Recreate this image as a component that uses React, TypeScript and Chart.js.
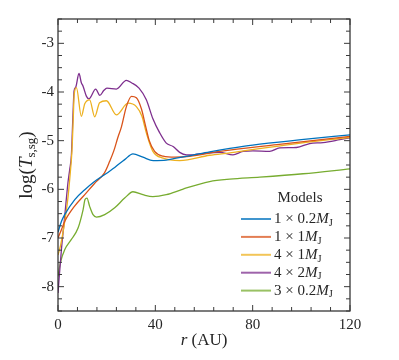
import React, { useEffect, useRef } from "react";
import { Chart, registerables } from "chart.js";

Chart.register(...registerables);

const FONT = "'Liberation Serif', 'DejaVu Serif', serif";

// ---- data ----
const xTickValues = [0, 40, 80, 120];
const yTickValues = [-8, -7, -6, -5, -4, -3];
const xMinorStep = 8;
const yMinorStep = 0.25;

const seriesPrefix = ["1 × 0.2", "1 × 1", "4 × 1", "4 × 2", "3 × 0.2"];
const seriesColors = ["#0072BD", "#D95319", "#EDB120", "#7E2F8E", "#77AC30"];

const blueX = [0, 1.4, 2.75, 6.9, 11, 15, 19.1, 23.3, 27.4, 30.8, 34.9, 39.1, 44.5, 48.6, 55, 62.3, 70.6, 80, 100, 120];
const blueY = [-6.88, -6.66, -6.52, -6.21, -6.01, -5.84, -5.7, -5.55, -5.39, -5.27, -5.34, -5.41, -5.4, -5.36, -5.3, -5.23, -5.16, -5.09, -4.98, -4.88];

const redX = [0, 1.4, 2.75, 6.9, 11, 15, 19.1, 21.2, 23, 24.5, 26.1, 28.1, 30.2, 32.2, 34.3, 36, 37.5, 39.7, 43.2, 48, 54, 66.5, 90, 120];
const redY = [-7.0, -6.83, -6.66, -6.34, -6.11, -5.88, -5.66, -5.43, -5.2, -4.95, -4.71, -4.3, -4.09, -4.12, -4.35, -4.7, -5.0, -5.22, -5.32, -5.34, -5.32, -5.22, -5.08, -4.91];

const yellowX = [0, 1.1, 2.55, 4, 4.8, 5.75, 6.25, 6.66, 7.56, 9.6, 11.0, 13.0, 15.1, 17.1, 19.9, 24.0, 28.8, 32.2, 34.5, 36.3, 39.0, 43.2, 50, 62.3, 70.6, 95, 120];
const yellowY = [-7.35, -7.14, -6.73, -6.21, -5.8, -5.19, -4.57, -4.05, -3.91, -4.5, -4.24, -4.16, -4.51, -4.22, -4.18, -4.47, -4.23, -4.3, -4.5, -4.84, -5.22, -5.36, -5.41, -5.3, -5.25, -5.08, -4.93];

const purpleX = [0, 1.4, 2.75, 4.1, 4.8, 5.5, 6.2, 6.6, 7.3, 8.63, 9.6, 10.3, 11.7, 12.7, 15.5, 17.2, 18.8, 20.1, 24.0, 28.1, 30.2, 33.3, 36.3, 39.0, 41.8, 44.5, 47.3, 50, 52.8, 55.5, 58.2, 62.3, 66.5, 71.9, 76.0, 80.1, 87.0, 91.1, 98.0, 103.4, 108.9, 115.8, 120];
const purpleY = [-8.13, -7.24, -6.56, -5.86, -5.6, -5.3, -4.4, -3.98, -3.9, -3.62, -3.81, -3.88, -4.09, -4.14, -3.94, -4.07, -3.97, -3.92, -3.94, -3.76, -3.81, -3.92, -4.16, -4.55, -4.84, -5.05, -5.12, -5.24, -5.29, -5.29, -5.27, -5.25, -5.24, -5.29, -5.22, -5.21, -5.22, -5.15, -5.14, -5.06, -5.04, -4.98, -4.94];

const greenX = [0, 1, 2.75, 5.5, 8.2, 10.3, 11.1, 11.9, 13.0, 14.4, 15.8, 19.2, 23.3, 27.4, 30.8, 34.9, 39.0, 44.5, 50, 52.8, 62.3, 70.6, 82.9, 100.7, 120];
const greenY = [-7.79, -7.5, -7.24, -7.03, -6.8, -6.42, -6.21, -6.18, -6.35, -6.52, -6.57, -6.52, -6.38, -6.18, -6.05, -6.11, -6.15, -6.11, -6.02, -5.97, -5.84, -5.79, -5.75, -5.68, -5.58];

const seriesX = [blueX, redX, yellowX, purpleX, greenX];
const seriesY = [blueY, redY, yellowY, purpleY, greenY];

const X_MIN = 0, X_MAX = 120, Y_MIN = -8.5, Y_MAX = -2.5;

function drawRuns(ctx: CanvasRenderingContext2D, runs: { t: string; font: string; dy: number }[], x: number, y: number, align: "left" | "center") {
  let total = 0;
  const widths = runs.map((r) => {
    ctx.font = r.font;
    const w = ctx.measureText(r.t).width;
    total += w;
    return w;
  });
  let cx = align === "center" ? x - total / 2 : x;
  runs.forEach((r, i) => {
    ctx.font = r.font;
    ctx.fillText(r.t, cx, y + r.dy);
    cx += widths[i];
  });
}

const decorPlugin = {
  id: "decor",
  afterDraw(chart: any) {
    const { ctx, chartArea: a, scales } = chart;
    const xs = scales.x, ys = scales.y;
    ctx.save();
    // frame
    ctx.strokeStyle = "#262626";
    ctx.lineWidth = 1.2;
    ctx.strokeRect(a.left, a.top, a.right - a.left, a.bottom - a.top);
    // ticks
    ctx.strokeStyle = "#3a3a3a";
    ctx.lineWidth = 1;
    ctx.beginPath();
    const nx = Math.round((X_MAX - X_MIN) / xMinorStep);
    for (let i = 0; i <= nx; i++) {
      const v = X_MIN + i * xMinorStep;
      const px = xs.getPixelForValue(v);
      const len = xTickValues.includes(v) ? 6 : 4;
      ctx.moveTo(px, a.bottom); ctx.lineTo(px, a.bottom - len);
      ctx.moveTo(px, a.top); ctx.lineTo(px, a.top + len);
    }
    const ny = Math.round((Y_MAX - Y_MIN) / yMinorStep);
    for (let i = 0; i <= ny; i++) {
      const v = Y_MIN + i * yMinorStep;
      const py = ys.getPixelForValue(v);
      const len = yTickValues.some((t) => Math.abs(t - v) < 1e-9) ? 6 : 4;
      ctx.moveTo(a.left, py); ctx.lineTo(a.left + len, py);
      ctx.moveTo(a.right, py); ctx.lineTo(a.right - len, py);
    }
    ctx.stroke();

    ctx.fillStyle = "#262626";
    ctx.textBaseline = "middle";
    // x title
    drawRuns(ctx, [
      { t: "r", font: `italic 17px ${FONT}`, dy: 0 },
      { t: " (AU)", font: `17px ${FONT}`, dy: 0 },
    ], (a.left + a.right) / 2, 341, "center");
    // y title
    ctx.save();
    ctx.translate(27, (a.top + a.bottom) / 2);
    ctx.rotate(-Math.PI / 2);
    drawRuns(ctx, [
      { t: "log(", font: `19px ${FONT}`, dy: 0 },
      { t: "T", font: `italic 19px ${FONT}`, dy: 0 },
      { t: "s,sg", font: `13px ${FONT}`, dy: 5 },
      { t: ")", font: `19px ${FONT}`, dy: 0 },
    ], 0, 0, "center");
    ctx.restore();

    // legend
    ctx.textAlign = "left";
    drawRuns(ctx, [{ t: "Models", font: `15px ${FONT}`, dy: 0 }], 300, 198, "center");
    seriesPrefix.forEach((p, i) => {
      const y = 219 + i * 17.9;
      ctx.strokeStyle = seriesColors[i];
      ctx.globalAlpha = 0.75;
      ctx.lineWidth = 2;
      ctx.beginPath();
      ctx.moveTo(241, y);
      ctx.lineTo(271, y);
      ctx.stroke();
      ctx.globalAlpha = 1;
      drawRuns(ctx, [
        { t: p, font: `15px ${FONT}`, dy: 0 },
        { t: "M", font: `italic 15px ${FONT}`, dy: 0 },
        { t: "J", font: `10.5px ${FONT}`, dy: 4 },
      ], 274, y, "left");
    });
    ctx.restore();
  },
};

export default function App() {
  const ref = useRef<HTMLCanvasElement>(null);
  useEffect(() => {
    if (!ref.current) return;
    const chart = new Chart(ref.current, {
      type: "line",
      data: {
        datasets: seriesPrefix.map((p, i) => ({
          label: p + "MJ",
          data: seriesX[i].map((x, j) => ({ x, y: seriesY[i][j] })),
          borderColor: seriesColors[i],
          borderWidth: 1.3,
          pointRadius: 0,
          fill: false,
          cubicInterpolationMode: "monotone" as const,
        })),
      },
      options: {
        animation: false,
        responsive: false,
        layout: { padding: { top: 19, right: 49, left: 0, bottom: 0 } },
        plugins: { legend: { display: false }, tooltip: { enabled: false } },
        scales: {
          x: {
            type: "linear",
            min: X_MIN,
            max: X_MAX,
            grid: { display: false, drawTicks: false },
            border: { display: false },
            ticks: { font: { family: FONT, size: 15 }, color: "#262626", padding: 5, maxRotation: 0, callback: (v: any) => String(v) },
            afterBuildTicks: (s: any) => { s.ticks = xTickValues.map((v) => ({ value: v })); },
            afterFit: (s: any) => { s.height = 49; },
          },
          y: {
            type: "linear",
            min: Y_MIN,
            max: Y_MAX,
            grid: { display: false, drawTicks: false },
            border: { display: false },
            ticks: { font: { family: FONT, size: 15 }, color: "#262626", padding: 4, callback: (v: any) => String(v) },
            afterBuildTicks: (s: any) => { s.ticks = yTickValues.map((v) => ({ value: v })); },
            afterFit: (s: any) => { s.width = 58; },
          },
        },
      },
      plugins: [decorPlugin],
    } as any);
    return () => chart.destroy();
  }, []);
  return (
    <div style={{ position: "fixed", left: 0, top: 0, width: 399, height: 360, background: "#fff" }}>
      <canvas ref={ref} width={399} height={360} style={{ display: "block" }} />
    </div>
  );
}
